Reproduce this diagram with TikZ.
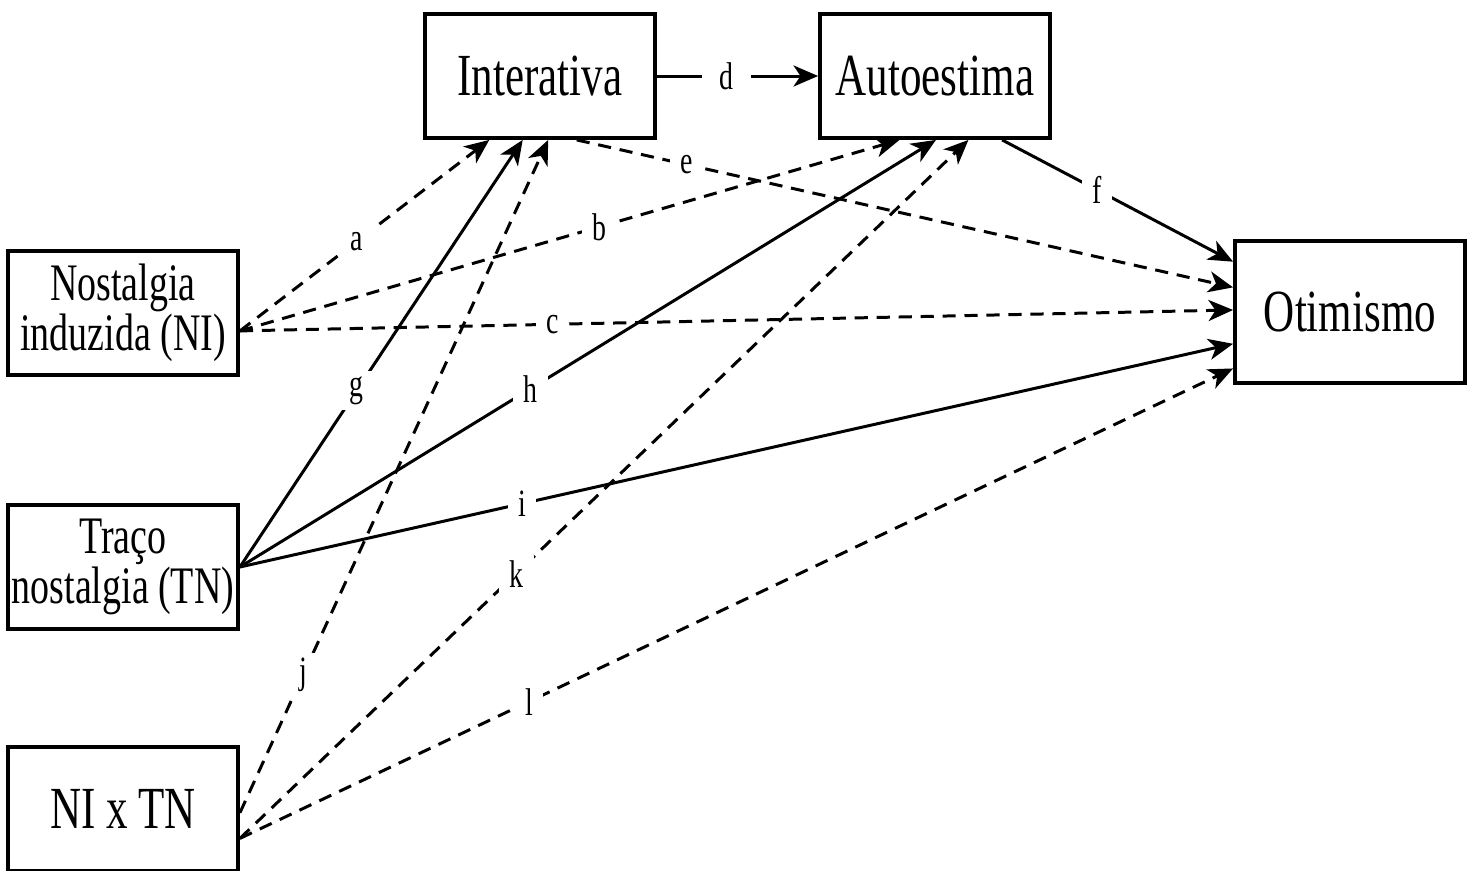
\documentclass[tikz,border=0pt]{standalone}
\usepackage{fontspec}
\setmainfont{Liberation Serif}[FakeStretch=0.72]
\usetikzlibrary{arrows.meta,calc}
\begin{document}
\begin{tikzpicture}[x=0.02cm,y=-0.02cm,
 box/.style={draw, line width=2.2pt, minimum width=4.6cm, minimum height=2.48cm, inner sep=0pt, align=center, font=\fontsize{34}{27}\selectfont},
 conn/.style={line width=1.7pt, -{Stealth[length=14pt,width=12pt,inset=4pt]}},
 dsh/.style={conn, dash pattern=on 7.5pt off 5pt},
 lbl/.style={fill=white, inner xsep=6pt, inner ysep=3pt, font=\fontsize{22}{24}\selectfont}]
\useasboundingbox (0,0) rectangle (1475,870);
\node[box] (inter) at (540,76) {Interativa};
\node[box] (auto) at (935,76) {Autoestima};
\node[box, minimum height=2.84cm] (otim) at (1350,312) {Otimismo};
\node[box, font=\fontsize{30}{27}\selectfont] (ni) at (123,313) {Nostalgia\\induzida (NI)};
\node[box, font=\fontsize{30}{27}\selectfont] (tn) at (123,567) {Traço\\nostalgia (TN)};
\node[box] (nitn) at (123,809) {NI x TN};
% start points
\coordinate (niS) at ($(ni.north east)!0.64!(ni.south east)$);
\coordinate (tnS) at (tn.east);
\coordinate (jS) at ($(nitn.north east)!0.53!(nitn.south east)$);
\coordinate (klS) at ($(nitn.north east)!0.73!(nitn.south east)$);
% connectors
\draw[dsh] (niS) -- node[lbl,pos=0.47]{a} ($(inter.south west)!0.283!(inter.south east)$);
\draw[dsh] (niS) -- node[lbl,pos=0.545]{b} ($(auto.south west)!0.348!(auto.south east)$);
\draw[dsh] (niS) -- node[lbl,pos=0.315]{c} ($(otim.north west)!0.486!(otim.south west)$);
\draw[conn] (inter.east) -- node[lbl,pos=0.43,inner xsep=10pt]{d} (auto.west);
\draw[dsh] ($(inter.south west)!0.657!(inter.south east)$) -- node[lbl,pos=0.167]{e} ($(otim.north west)!0.331!(otim.south west)$);
\draw[conn] ($(auto.south west)!0.787!(auto.south east)$) -- node[lbl,pos=0.41]{f} ($(otim.north west)!0.155!(otim.south west)$);
\draw[conn] (tnS) -- node[lbl,pos=0.413]{g} ($(inter.south west)!0.426!(inter.south east)$);
\draw[conn] (tnS) -- node[lbl,pos=0.417]{h} ($(auto.south west)!0.504!(auto.south east)$);
\draw[conn] (tnS) -- node[lbl,pos=0.284]{i} ($(otim.north west)!0.718!(otim.south west)$);
\draw[dsh] (jS) -- node[lbl,pos=0.205]{j} ($(inter.south west)!0.535!(inter.south east)$);
\draw[dsh] (klS) -- node[lbl,pos=0.379]{k} ($(auto.south west)!0.643!(auto.south east)$);
\draw[dsh] (klS) -- node[lbl,pos=0.291]{l} ($(otim.north west)!0.887!(otim.south west)$);
\end{tikzpicture}
\end{document}
